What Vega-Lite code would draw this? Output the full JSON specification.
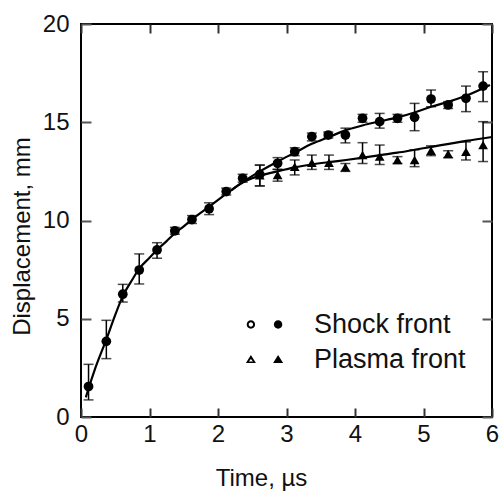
{
  "$schema": "https://vega.github.io/schema/vega-lite/v6.json",
  "width": 411,
  "height": 393,
  "autosize": {"type": "none"},
  "padding": {"left": 81, "top": 24, "right": 8, "bottom": 74},
  "background": "white",
  "config": {
    "view": {"stroke": "black", "strokeWidth": 2},
    "font": "Liberation Sans",
    "axis": {"labelFont": "Liberation Sans", "titleFont": "Liberation Sans", "labelColor": "#111", "titleColor": "#111", "titleFontWeight": "normal"},
    "legend": {"labelFont": "Liberation Sans", "labelColor": "#111"}
  },
  "datasets": {
    "pts": [
      {"t": 0.11, "d": 1.55, "lo": 0.87, "hi": 2.68, "front": "Shock front"},
      {"t": 0.37, "d": 3.85, "lo": 2.97, "hi": 4.92, "front": "Shock front"},
      {"t": 0.61, "d": 6.25, "lo": 5.85, "hi": 6.75, "front": "Shock front"},
      {"t": 0.85, "d": 7.48, "lo": 6.77, "hi": 8.3, "front": "Shock front"},
      {"t": 1.11, "d": 8.5, "lo": 8.08, "hi": 8.87, "front": "Shock front"},
      {"t": 1.37, "d": 9.47, "lo": 9.3, "hi": 9.65, "front": "Shock front"},
      {"t": 1.62, "d": 10.05, "lo": 9.85, "hi": 10.25, "front": "Shock front"},
      {"t": 1.87, "d": 10.6, "lo": 10.3, "hi": 10.9, "front": "Shock front"},
      {"t": 2.12, "d": 11.47, "lo": 11.3, "hi": 11.65, "front": "Shock front"},
      {"t": 2.36, "d": 12.15, "lo": 11.95, "hi": 12.35, "front": "Shock front"},
      {"t": 2.61, "d": 12.35, "lo": 11.76, "hi": 12.82, "front": "Shock front"},
      {"t": 2.87, "d": 12.91, "lo": 12.6, "hi": 13.2, "front": "Shock front"},
      {"t": 3.12, "d": 13.5, "lo": 13.3, "hi": 13.7, "front": "Shock front"},
      {"t": 3.37, "d": 14.27, "lo": 14.05, "hi": 14.45, "front": "Shock front"},
      {"t": 3.61, "d": 14.35, "lo": 14.2, "hi": 14.5, "front": "Shock front"},
      {"t": 3.86, "d": 14.35, "lo": 13.95, "hi": 14.7, "front": "Shock front"},
      {"t": 4.11, "d": 15.2, "lo": 15.0, "hi": 15.4, "front": "Shock front"},
      {"t": 4.36, "d": 15.03, "lo": 14.7, "hi": 15.45, "front": "Shock front"},
      {"t": 4.62, "d": 15.2, "lo": 15.0, "hi": 15.4, "front": "Shock front"},
      {"t": 4.87, "d": 15.25, "lo": 14.57, "hi": 15.96, "front": "Shock front"},
      {"t": 5.11, "d": 16.18, "lo": 15.79, "hi": 16.64, "front": "Shock front"},
      {"t": 5.36, "d": 15.88, "lo": 15.7, "hi": 16.05, "front": "Shock front"},
      {"t": 5.62, "d": 16.22, "lo": 15.54, "hi": 16.84, "front": "Shock front"},
      {"t": 5.87, "d": 16.84, "lo": 16.05, "hi": 17.57, "front": "Shock front"},
      {"t": 2.61, "d": 12.3, "lo": 11.76, "hi": 12.82, "front": "Plasma front"},
      {"t": 2.87, "d": 12.32, "lo": 12.0, "hi": 12.6, "front": "Plasma front"},
      {"t": 3.12, "d": 12.74, "lo": 12.32, "hi": 13.08, "front": "Plasma front"},
      {"t": 3.37, "d": 12.94, "lo": 12.6, "hi": 13.33, "front": "Plasma front"},
      {"t": 3.62, "d": 12.94, "lo": 12.6, "hi": 13.33, "front": "Plasma front"},
      {"t": 3.86, "d": 12.71, "lo": 12.5, "hi": 12.9, "front": "Plasma front"},
      {"t": 4.11, "d": 13.33, "lo": 12.9, "hi": 13.96, "front": "Plasma front"},
      {"t": 4.36, "d": 13.25, "lo": 12.85, "hi": 13.84, "front": "Plasma front"},
      {"t": 4.62, "d": 13.08, "lo": 12.9, "hi": 13.25, "front": "Plasma front"},
      {"t": 4.87, "d": 13.08, "lo": 12.74, "hi": 13.6, "front": "Plasma front"},
      {"t": 5.11, "d": 13.55, "lo": 13.3, "hi": 13.8, "front": "Plasma front"},
      {"t": 5.36, "d": 13.38, "lo": 13.2, "hi": 13.55, "front": "Plasma front"},
      {"t": 5.62, "d": 13.5, "lo": 13.08, "hi": 14.0, "front": "Plasma front"},
      {"t": 5.87, "d": 13.84, "lo": 13.0, "hi": 15.03, "front": "Plasma front"}
    ],
    "fit": [
      {"t": 0.07, "d": 1.0, "front": "Shock front"},
      {"t": 0.11, "d": 1.45, "front": "Shock front"},
      {"t": 0.2, "d": 2.4, "front": "Shock front"},
      {"t": 0.37, "d": 3.95, "front": "Shock front"},
      {"t": 0.5, "d": 5.2, "front": "Shock front"},
      {"t": 0.61, "d": 6.15, "front": "Shock front"},
      {"t": 0.75, "d": 7.0, "front": "Shock front"},
      {"t": 0.85, "d": 7.55, "front": "Shock front"},
      {"t": 1.0, "d": 8.1, "front": "Shock front"},
      {"t": 1.11, "d": 8.5, "front": "Shock front"},
      {"t": 1.25, "d": 8.95, "front": "Shock front"},
      {"t": 1.37, "d": 9.35, "front": "Shock front"},
      {"t": 1.5, "d": 9.7, "front": "Shock front"},
      {"t": 1.62, "d": 10.05, "front": "Shock front"},
      {"t": 1.87, "d": 10.7, "front": "Shock front"},
      {"t": 2.12, "d": 11.35, "front": "Shock front"},
      {"t": 2.36, "d": 11.95, "front": "Shock front"},
      {"t": 2.61, "d": 12.5, "front": "Shock front"},
      {"t": 2.87, "d": 13.0, "front": "Shock front"},
      {"t": 3.12, "d": 13.45, "front": "Shock front"},
      {"t": 3.37, "d": 13.9, "front": "Shock front"},
      {"t": 3.62, "d": 14.25, "front": "Shock front"},
      {"t": 3.87, "d": 14.6, "front": "Shock front"},
      {"t": 4.12, "d": 14.85, "front": "Shock front"},
      {"t": 4.37, "d": 15.05, "front": "Shock front"},
      {"t": 4.62, "d": 15.25, "front": "Shock front"},
      {"t": 4.87, "d": 15.5, "front": "Shock front"},
      {"t": 5.12, "d": 15.8, "front": "Shock front"},
      {"t": 5.37, "d": 16.05, "front": "Shock front"},
      {"t": 5.62, "d": 16.35, "front": "Shock front"},
      {"t": 5.97, "d": 16.9, "front": "Shock front"},
      {"t": 2.2, "d": 11.55, "front": "Plasma front"},
      {"t": 2.36, "d": 11.93, "front": "Plasma front"},
      {"t": 2.5, "d": 12.15, "front": "Plasma front"},
      {"t": 2.61, "d": 12.27, "front": "Plasma front"},
      {"t": 2.87, "d": 12.5, "front": "Plasma front"},
      {"t": 3.12, "d": 12.7, "front": "Plasma front"},
      {"t": 3.37, "d": 12.85, "front": "Plasma front"},
      {"t": 3.62, "d": 12.97, "front": "Plasma front"},
      {"t": 3.87, "d": 13.08, "front": "Plasma front"},
      {"t": 4.12, "d": 13.2, "front": "Plasma front"},
      {"t": 4.37, "d": 13.33, "front": "Plasma front"},
      {"t": 4.62, "d": 13.45, "front": "Plasma front"},
      {"t": 4.87, "d": 13.6, "front": "Plasma front"},
      {"t": 5.12, "d": 13.75, "front": "Plasma front"},
      {"t": 5.37, "d": 13.9, "front": "Plasma front"},
      {"t": 5.62, "d": 14.05, "front": "Plasma front"},
      {"t": 6.0, "d": 14.25, "front": "Plasma front"}
    ]
  },
  "resolve": {"axis": {"x": "independent", "y": "independent"}, "scale": {"shape": "independent"}, "legend": {"shape": "independent"}},
  "layer": [
    {
      "data": {"name": "fit"},
      "mark": {"type": "line", "color": "black", "strokeWidth": 2.2, "interpolate": "monotone"},
      "encoding": {
        "x": {"field": "t", "type": "quantitative", "scale": {"domain": [0, 6], "nice": false},
          "axis": {"orient": "bottom", "values": [0, 1, 2, 3, 4, 5, 6], "grid": false, "domain": false, "tickSize": -9, "tickWidth": 2, "tickColor": "#333", "labelFontSize": 24, "labelPadding": 14, "labelFlush": false, "title": "Time, µs", "titleFontSize": 24, "titleX": 180, "titleY": 68, "titleBaseline": "alphabetic", "titleAnchor": null}},
        "y": {"field": "d", "type": "quantitative", "scale": {"domain": [0, 20], "nice": false},
          "axis": {"orient": "left", "values": [0, 5, 10, 15, 20], "grid": false, "domain": false, "tickSize": -10, "tickWidth": 2, "tickColor": "#555", "labelFontSize": 24, "labelPadding": 22, "labelFlush": false, "title": "Displacement, mm", "titleFontSize": 24, "titleX": -52, "titleY": 212, "titleBaseline": "alphabetic", "titleAngle": -90, "titleAnchor": null}},
        "detail": {"field": "front"}
      }
    },
    {
      "data": {"name": "pts"},
      "mark": {"type": "errorbar", "ticks": {"size": 10, "color": "black", "thickness": 1.5}, "rule": {"color": "black", "strokeWidth": 1.5}},
      "encoding": {
        "x": {"field": "t", "type": "quantitative", "axis": null},
        "y": {"field": "lo", "type": "quantitative", "axis": null},
        "y2": {"field": "hi"}
      }
    },
    {
      "data": {"name": "pts"},
      "mark": {"type": "point", "filled": true, "opacity": 1, "color": "black", "size": 95},
      "encoding": {
        "x": {"field": "t", "type": "quantitative", "axis": null},
        "y": {"field": "d", "type": "quantitative", "axis": null},
        "shape": {"field": "front", "type": "nominal",
          "scale": {"domain": ["Shock front", "Plasma front"], "range": ["circle", "triangle-up"]},
          "legend": null}
      }
    },
    {
      "data": {"name": "pts"},
      "transform": [{"filter": "datum.t < 0"}],
      "mark": {"type": "point", "filled": true, "opacity": 1, "color": "black"},
      "encoding": {
        "x": {"field": "t", "type": "quantitative",
          "axis": {"orient": "top", "values": [0, 1, 2, 3, 4, 5, 6], "grid": false, "domain": false, "labels": false, "title": null, "tickSize": -9, "tickWidth": 2, "tickColor": "#333"}},
        "y": {"field": "d", "type": "quantitative",
          "axis": {"orient": "right", "values": [0, 5, 10, 15, 20], "grid": false, "domain": false, "labels": false, "title": null, "tickSize": -10, "tickWidth": 2, "tickColor": "#555"}},
        "shape": {"field": "front", "type": "nominal",
          "scale": {"domain": ["Shock front", "Plasma front"],
            "range": ["M-4.45,0A1.05,1.05,0,1,1,-2.35,0A1.05,1.05,0,1,1,-4.45,0ZM-3.95,0A0.55,0.55,0,1,0,-2.85,0A0.55,0.55,0,1,0,-3.95,0ZM2.35,0A1.05,1.05,0,1,1,4.45,0A1.05,1.05,0,1,1,2.35,0Z",
                      "M-3.4,-1.1L-2.15,0.9L-4.65,0.9ZM-3.4,-0.1L-3.9,0.5L-2.9,0.5ZM3.4,-1.1L4.65,0.9L2.15,0.9Z"]},
          "legend": {"orient": "none", "legendX": 170, "legendY": 287, "title": null, "padding": 0,
            "symbolSize": 64, "symbolFillColor": "black", "symbolStrokeColor": "black", "symbolStrokeWidth": 0, "symbolOpacity": 1,
            "labelFontSize": 27, "labelOffset": 36, "rowPadding": 7}}
      }
    }
  ]
}
